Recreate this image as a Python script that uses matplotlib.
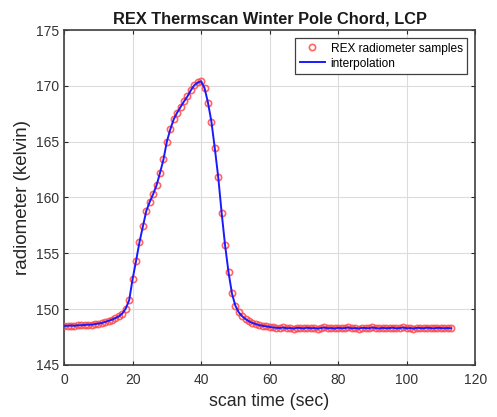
import matplotlib
matplotlib.use("Agg")
import matplotlib.pyplot as plt

plt.rcParams['font.family'] = ['Liberation Sans', 'DejaVu Sans']

# sample times (sec)
t = list(range(0, 114))
# radiometer brightness temperature (kelvin)
temps = [
    148.50, 148.50, 148.52, 148.50, 148.55, 148.55, 148.58, 148.60, 148.60, 148.65,
    148.70, 148.75, 148.85, 148.95, 149.05, 149.20, 149.35, 149.60, 150.05, 150.80,
    152.70, 154.30, 156.00, 157.40, 158.80, 159.60, 160.30, 161.10, 162.20, 163.40,
    165.00, 166.10, 167.00, 167.60, 168.10, 168.60, 169.05, 169.60, 170.05, 170.30,
    170.40, 169.80, 168.50, 166.80, 164.40, 161.80, 158.60, 155.70, 153.30, 151.40,
    150.30, 149.70, 149.35, 149.10, 148.90, 148.75, 148.65, 148.55, 148.50, 148.45,
    148.40, 148.35, 148.32, 148.30, 148.35, 148.28, 148.30, 148.25, 148.32, 148.30,
    148.27, 148.33, 148.28, 148.30, 148.25, 148.30, 148.35, 148.28, 148.30, 148.26,
    148.32, 148.28, 148.30, 148.35, 148.27, 148.30, 148.25, 148.32, 148.30, 148.28,
    148.35, 148.30, 148.26, 148.32, 148.28, 148.30, 148.33, 148.27, 148.30, 148.35,
    148.28, 148.30, 148.25, 148.32, 148.30, 148.28, 148.33, 148.30, 148.27, 148.32,
    148.30, 148.28, 148.30, 148.28,
]

xticks = [0, 20, 40, 60, 80, 100, 120]
yticks = [145, 150, 155, 160, 165, 170, 175]

fig = plt.figure(figsize=(4.97, 4.17), dpi=100)
ax = fig.add_axes([0.129, 0.125, 0.827, 0.803])

ax.plot(t, temps, linestyle='none', marker='o', markersize=4.5,
        markerfacecolor='none', markeredgecolor='#ff4a4a', markeredgewidth=1.2,
        alpha=0.85, label='REX radiometer samples', zorder=3)
ax.plot(t, temps, color='#1a1aff', linewidth=1.4, label='interpolation', zorder=4)

ax.set_xlim(0, 120)
ax.set_ylim(145, 175)
ax.set_xticks(xticks)
ax.set_yticks(yticks)
ax.grid(True, color='#dcdcdc', linewidth=0.8)
ax.set_axisbelow(True)
ax.tick_params(direction='in', length=3, width=0.8, colors='#262626',
               labelsize=10, top=True, right=True)
ax.tick_params(axis='x', pad=6)
for lab in ax.get_xticklabels() + ax.get_yticklabels():
    lab.set_color('#333333')
for s in ax.spines.values():
    s.set_color('#404040')
    s.set_linewidth(1.2)

ax.set_xlabel('scan time (sec)', fontsize=12.8, color='#262626', labelpad=4)
ax.set_ylabel('radiometer (kelvin)', fontsize=13.5, color='#262626', labelpad=4)
ax.set_title('REX Thermscan Winter Pole Chord, LCP', fontsize=11.8,
             fontweight='bold', color='#1a1a1a', pad=5)

leg = ax.legend(loc='upper right', fontsize=8.6, frameon=True, fancybox=False,
                edgecolor='#404040', framealpha=1, handlelength=2.1,
                handletextpad=0.5, borderpad=0.35, labelspacing=0.25,
                borderaxespad=0.7)
leg.get_frame().set_linewidth(0.9)

fig.savefig('out.png', dpi=100)
